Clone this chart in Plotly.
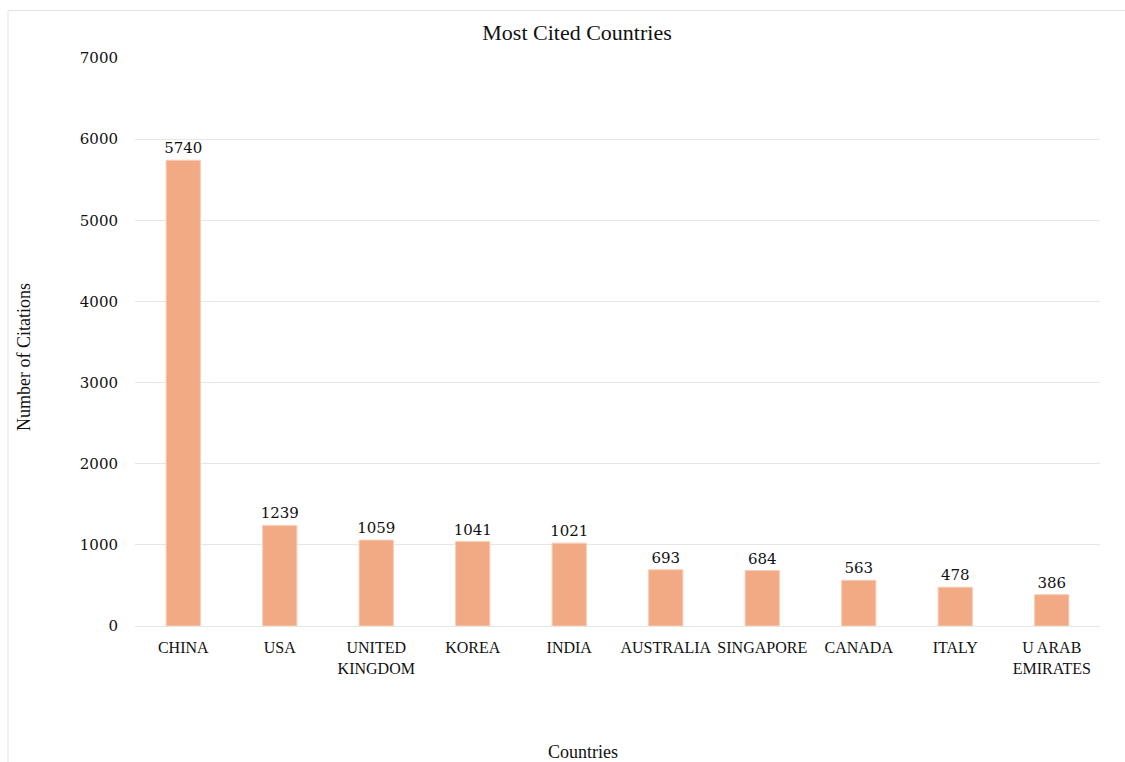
import plotly.graph_objects as go

countries = ["CHINA", "USA", "UNITED<br>KINGDOM", "KOREA", "INDIA", "AUSTRALIA",
             "SINGAPORE", "CANADA", "ITALY", "U ARAB<br>EMIRATES"]
citations = [5740, 1239, 1059, 1041, 1021, 693, 684, 563, 478, 386]
y_ticks = [0, 1000, 2000, 3000, 4000, 5000, 6000, 7000]

SERIF = "Liberation Serif"
NUM = "DejaVu Serif"
TXT = "#111111"

W, H = 1125, 762
L, R, T, B = 135, 25, 58, 136
pw, ph = W - L - R, H - T - B

def px_x(px):
    return (px - L) / pw

def px_y(py):
    return (H - B - py) / ph

fig = go.Figure(
    go.Bar(
        x=countries,
        y=citations,
        marker=dict(color="#F2AA84", line=dict(color="#F8CDB5", width=1)),
        text=[str(v) for v in citations],
        textposition="outside",
        constraintext="none",
        textfont=dict(family=NUM, size=15, color=TXT),
        cliponaxis=False,
    )
)

fig.update_layout(
    width=W,
    height=H,
    margin=dict(l=L, r=R, t=T, b=B),
    paper_bgcolor="white",
    plot_bgcolor="white",
    bargap=0.645,
    showlegend=False,
    title=dict(
        text="Most Cited Countries",
        x=577 / W,
        xanchor="center",
        y=1 - 32 / H,
        yanchor="middle",
        font=dict(family=SERIF, size=22, color=TXT),
    ),
    xaxis=dict(
        automargin=False,
        tickangle=0,
        showgrid=False,
        showline=False,
        ticks="",
        ticklabelstandoff=10,
        tickfont=dict(family=SERIF, size=16, color=TXT),
    ),
    yaxis=dict(
        automargin=False,
        range=[0, 7000],
        tickvals=y_ticks,
        showgrid=True,
        gridcolor="#e6e6e6",
        gridwidth=1,
        zeroline=True,
        zerolinecolor="#e6e6e6",
        zerolinewidth=1,
        ticks="",
        ticklabelstandoff=16,
        tickfont=dict(family=NUM, size=15, color=TXT),
    ),
    annotations=[
        dict(
            text="Countries",
            xref="paper", yref="paper",
            x=px_x(583), y=px_y(752),
            xanchor="center", yanchor="middle",
            showarrow=False,
            font=dict(family=SERIF, size=18, color=TXT),
        ),
        dict(
            text="Number of Citations",
            xref="paper", yref="paper",
            x=px_x(24), y=px_y(357),
            xanchor="center", yanchor="middle",
            textangle=-90,
            showarrow=False,
            font=dict(family=SERIF, size=18, color=TXT),
        ),
    ],
    shapes=[
        dict(
            type="rect",
            xref="paper",
            yref="paper",
            x0=px_x(8),
            x1=px_x(W + 20),
            y0=px_y(H + 20),
            y1=px_y(10.5),
            line=dict(color="#e3e3e3", width=1),
            fillcolor="rgba(0,0,0,0)",
            layer="below",
        )
    ],
)

fig.write_html("out.html")
